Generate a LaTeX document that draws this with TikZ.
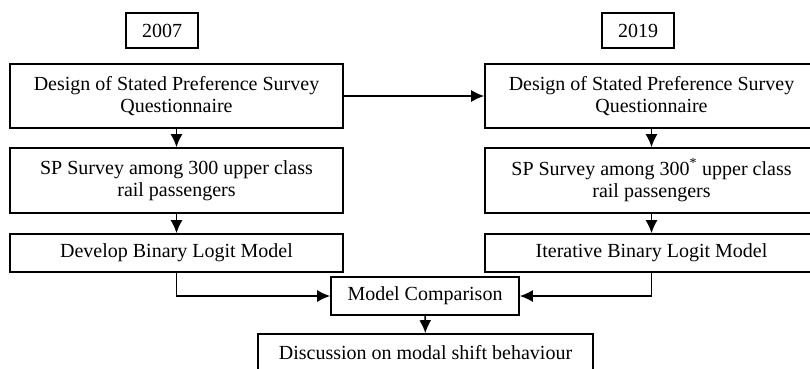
\documentclass[tikz,border=0pt]{standalone}
\usepackage{fontspec}
\setmainfont{Liberation Serif}
\usetikzlibrary{arrows.meta}
\tikzset{
    every node/.style={font=\fontsize{20}{22.5}\selectfont},
    box/.style={draw, line width=1.6pt, align=center, inner sep=0pt},
    stage/.style={box, minimum width=333, minimum height=64},
    flow/.style={line width=1.6pt, -{Latex[length=13pt,width=12pt]}}
}

\begin{document}
\begin{tikzpicture}[x=1pt,y=-1pt]
    \useasboundingbox (0,0) rectangle (810,368);

    % Year labels
    \node[box, minimum width=72, minimum height=35] (y07) at (162,30.5) {2007};
    \node[box, minimum width=72, minimum height=35] (y19) at (638,30.5) {2019};

    % 2007 column
    \node[stage] (d07) at (176.5,96) {Design of Stated Preference Survey\\Questionnaire};
    \node[stage, minimum height=65] (s07) at (176.5,180.5) {SP Survey among 300 upper class\\rail passengers};
    \node[stage, minimum height=38] (m07) at (176.5,253) {Develop Binary Logit Model};

    % 2019 column
    \node[stage] (d19) at (651.5,96) {Design of Stated Preference Survey\\Questionnaire};
    \node[stage, minimum height=65] (s19) at (651.5,180.5) {SP Survey among 300\textsuperscript{*} upper class\\rail passengers};
    \node[stage, minimum height=38] (m19) at (651.5,253) {Iterative Binary Logit Model};

    % Comparison and discussion
    \node[box, minimum width=188, minimum height=38] (cmp) at (425,296) {Model Comparison};
    \node[box, minimum width=335, minimum height=38] (disc) at (425.5,353) {Discussion on modal shift behaviour};

    % Connectors
    \draw[flow] (d07) -- (d19);
    \draw[flow] (d07) -- (s07);
    \draw[flow] (s07) -- (m07);
    \draw[flow] (d19) -- (s19);
    \draw[flow] (s19) -- (m19);
    \draw[flow] (m07.south) |- (cmp.west);
    \draw[flow] (m19.south) |- (cmp.east);
    \draw[flow] (cmp) -- (disc);
\end{tikzpicture}
\end{document}
